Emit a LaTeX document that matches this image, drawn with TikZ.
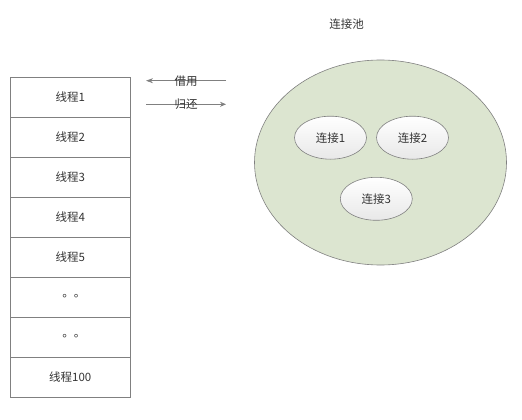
\documentclass[tikz,border=0pt]{standalone}
\usepackage{fontspec}
\setmainfont{Noto Sans CJK SC}
\newfontfamily\tcfont{Noto Sans CJK TC}
\usetikzlibrary{positioning}
\usetikzlibrary{shapes.geometric}
\usetikzlibrary{arrows.meta}
\usepackage{xcolor}
\definecolor{linegray}{HTML}{808080}
\definecolor{poolgreen}{HTML}{DCE5D0}
\definecolor{txt}{HTML}{333333}

\begin{document}
\begin{tikzpicture}[x=1pt,y=-1pt,node distance=40pt,on grid,
    font=\fontsize{11.5}{13}\selectfont, text=txt,
    row/.style={draw=linegray,line width=0.8pt,minimum width=120pt,minimum height=40pt,inner sep=0pt},
    conn/.style={ellipse,draw=linegray,line width=0.6pt,top color=white,bottom color=gray!18,
                 minimum width=72pt,minimum height=43pt,inner sep=0pt}]
   \useasboundingbox (0,0) rectangle (522,420);

   % threads
   \node[row] (t_1) at (70.3,97) {线程1};
   \node[row] (t_2) [below=of t_1] {线程2};
   \node[row] (t_3) [below=of t_2] {线程3};
   \node[row] (t_4) [below=of t_3] {线程4};
   \node[row] (t_5) [below=of t_4] {线程5};
   \node[row] (t_dot) [below=of t_5] {\tcfont 。。};
   \node[row] (t_dot2) [below=of t_dot] {\tcfont 。。};
   \node[row] (t_100) [below=of t_dot2] {线程100};

   % borrow / return
   \coordinate (b_in) at (226,80.7);
   \coordinate (b_out) at (146,80.7);
   \coordinate (r_in) at (146,104.3);
   \coordinate (r_out) at (226,104.3);
   \draw[-{Stealth[length=7pt,width=5pt]},linegray,line width=0.6pt] (b_in) -- node[pos=0.5,text=txt] {借用} (b_out);
   \draw[-{Stealth[length=6pt,width=5pt]},linegray,line width=0.6pt] (r_in) -- node[pos=0.5,text=txt] {归还} (r_out);

   % pool
   \node (title) at (346.7,24) {连接池};
   \node[ellipse,draw=linegray,line width=0.6pt,fill=poolgreen,minimum width=252pt,minimum height=205pt] (pool) at (380.5,162.5) {};
   \node[conn] (c_1) at (330.5,137.7) {连接1};
   \node[conn] (c_2) [right=82pt of c_1] {连接2};
   \node[conn] (c_3) at (376.3,198.8) {连接3};
\end{tikzpicture}
\end{document}
